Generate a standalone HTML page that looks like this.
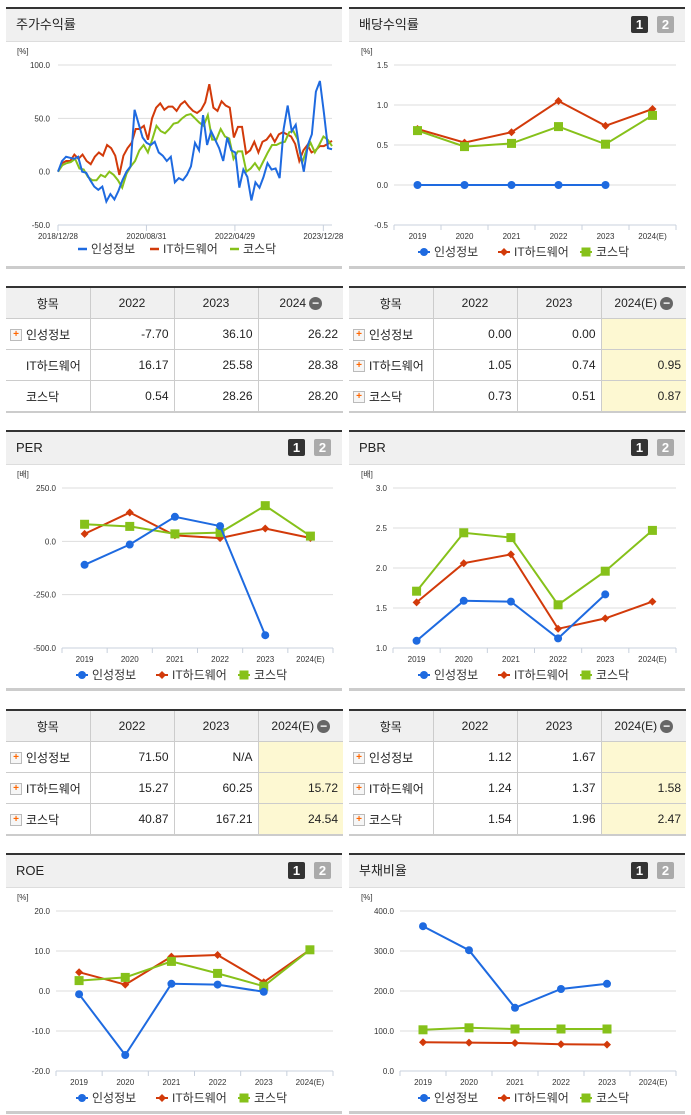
<!DOCTYPE html>
<html><head><meta charset="utf-8"><style>
body{margin:0;width:691px;height:1115px;background:#fff;position:relative;overflow:hidden;font-family:"Liberation Sans","Noto Sans CJK KR",sans-serif;}
.panel{position:absolute;width:336px;border-top:2px solid #333;}
.hdr{height:32px;background:#f0f0f0;border-bottom:1px solid #ddd;font-size:13px;color:#222;line-height:32px;padding-left:10px;position:relative;}
.btn{position:absolute;top:7px;width:17px;height:17px;font-size:13px;font-weight:bold;color:#fff;line-height:17px;text-align:center;border-radius:2px;}
table{position:absolute;border-collapse:collapse;font-size:12px;color:#222;border-top:2px solid #333;border-bottom:2px solid #ccc;table-layout:fixed;}
td,th{border-left:1px solid #ccc;border-bottom:1px solid #ccc;height:30px;padding:0 5px;}
td:first-child,th:first-child{border-left:none;}
th{background:#f0f0f0;font-weight:normal;}
td{text-align:right;}
td.n{text-align:left;padding-left:4px;}
.y{background:#fdf8d2;}
.pl{display:inline-block;width:10px;height:10px;border:1px solid #bbb;background:#f6f6f6;color:#f60;font-size:10px;line-height:10px;text-align:center;font-weight:bold;vertical-align:middle;margin-right:4px;}
.sp{display:inline-block;width:16px;}
.mi{display:inline-block;width:13px;height:13px;border-radius:50%;background:#666;color:#fff;font-size:12px;line-height:12px;text-align:center;vertical-align:middle;margin-left:3px;font-weight:bold;}
</style></head><body>
<div class="panel" style="left:6px;top:7px;height:257px;border-bottom:3px solid #ccc;"><div class="hdr">주가수익률</div></div>
<div class="panel" style="left:349px;top:7px;height:257px;border-bottom:3px solid #ccc;"><div class="hdr">배당수익률<span class="btn" style="left:282px;background:#333">1</span><span class="btn" style="left:308px;background:#aaa">2</span></div></div>
<div class="panel" style="left:6px;top:430px;height:256px;border-bottom:3px solid #ccc;"><div class="hdr">PER<span class="btn" style="left:282px;background:#333">1</span><span class="btn" style="left:308px;background:#aaa">2</span></div></div>
<div class="panel" style="left:349px;top:430px;height:256px;border-bottom:3px solid #ccc;"><div class="hdr">PBR<span class="btn" style="left:282px;background:#333">1</span><span class="btn" style="left:308px;background:#aaa">2</span></div></div>
<div class="panel" style="left:6px;top:853px;height:256px;border-bottom:3px solid #ccc;"><div class="hdr">ROE<span class="btn" style="left:282px;background:#333">1</span><span class="btn" style="left:308px;background:#aaa">2</span></div></div>
<div class="panel" style="left:349px;top:853px;height:256px;border-bottom:3px solid #ccc;"><div class="hdr">부채비율<span class="btn" style="left:282px;background:#333">1</span><span class="btn" style="left:308px;background:#aaa">2</span></div></div>

<table style="left:6px;top:286px;width:337px;">
<colgroup><col style="width:84px"><col style="width:84px"><col style="width:84px"><col style="width:85px"></colgroup>
<tr><th>항목</th><th>2022</th><th>2023</th><th>2024<span class="mi">−</span></th></tr>
<tr><td class="n"><span class="pl">+</span>인성정보</td><td>-7.70</td><td>36.10</td><td>26.22</td></tr>
<tr><td class="n"><span class="sp"></span>IT하드웨어</td><td>16.17</td><td>25.58</td><td>28.38</td></tr>
<tr><td class="n"><span class="sp"></span>코스닥</td><td>0.54</td><td>28.26</td><td>28.20</td></tr></table>

<table style="left:349px;top:286px;width:337px;">
<colgroup><col style="width:84px"><col style="width:84px"><col style="width:84px"><col style="width:85px"></colgroup>
<tr><th>항목</th><th>2022</th><th>2023</th><th>2024(E)<span class="mi">−</span></th></tr>
<tr><td class="n"><span class="pl">+</span>인성정보</td><td>0.00</td><td>0.00</td><td class="y"></td></tr>
<tr><td class="n"><span class="pl">+</span>IT하드웨어</td><td>1.05</td><td>0.74</td><td class="y">0.95</td></tr>
<tr><td class="n"><span class="pl">+</span>코스닥</td><td>0.73</td><td>0.51</td><td class="y">0.87</td></tr></table>

<table style="left:6px;top:709px;width:337px;">
<colgroup><col style="width:84px"><col style="width:84px"><col style="width:84px"><col style="width:85px"></colgroup>
<tr><th>항목</th><th>2022</th><th>2023</th><th>2024(E)<span class="mi">−</span></th></tr>
<tr><td class="n"><span class="pl">+</span>인성정보</td><td>71.50</td><td>N/A</td><td class="y"></td></tr>
<tr><td class="n"><span class="pl">+</span>IT하드웨어</td><td>15.27</td><td>60.25</td><td class="y">15.72</td></tr>
<tr><td class="n"><span class="pl">+</span>코스닥</td><td>40.87</td><td>167.21</td><td class="y">24.54</td></tr></table>

<table style="left:349px;top:709px;width:337px;">
<colgroup><col style="width:84px"><col style="width:84px"><col style="width:84px"><col style="width:85px"></colgroup>
<tr><th>항목</th><th>2022</th><th>2023</th><th>2024(E)<span class="mi">−</span></th></tr>
<tr><td class="n"><span class="pl">+</span>인성정보</td><td>1.12</td><td>1.67</td><td class="y"></td></tr>
<tr><td class="n"><span class="pl">+</span>IT하드웨어</td><td>1.24</td><td>1.37</td><td class="y">1.58</td></tr>
<tr><td class="n"><span class="pl">+</span>코스닥</td><td>1.54</td><td>1.96</td><td class="y">2.47</td></tr></table>

<svg id="svg" width="691" height="1115" style="position:absolute;left:0;top:0;pointer-events:none" font-family="Liberation Sans, Noto Sans CJK KR, sans-serif"></svg>
<script>
const years = ["2019","2020","2021","2022","2023","2024(E)"];
const stockDates = ["2018/12/28","2020/08/31","2022/04/29","2023/12/28"];
const stockTicks = [100,50,0,-50];
const stockBlue = [0,10,14,13,12,14,0,-1,-8,-14,-17,-14,-28,-21,-26,-18,-8,0,5,58,45,32,27,25,28,18,15,10,14,-10,-6,-8,-3,5,27,20,53,25,38,30,22,10,32,20,18,-15,2,-5,-27,-10,-15,-5,8,2,3,-6,40,62,38,44,20,0,25,35,75,85,55,22,21];
const stockRed = [0,8,10,10,16,12,16,10,7,14,18,15,25,22,15,-3,15,22,27,40,40,43,30,50,60,64,58,61,61,57,63,66,61,57,55,58,65,82,60,57,66,62,60,32,42,42,17,20,28,18,28,30,35,28,35,37,35,33,26,10,20,25,18,20,24,24,26,29];
const stockGreen = [0,6,8,9,12,3,2,-5,-8,-8,-3,-5,0,-3,-8,-15,-2,5,10,20,25,18,30,43,38,36,40,45,46,50,53,54,50,46,43,53,30,30,40,33,31,12,19,19,0,3,8,2,10,18,25,25,27,28,37,38,30,8,20,27,18,25,33,30,24];
const divBlue=[0,0,0,0,0,null], divRed=[0.70,0.53,0.66,1.05,0.74,0.95], divGreen=[0.68,0.48,0.52,0.73,0.51,0.87];
const divTicks=[1.5,1.0,0.5,0.0,-0.5];
const perBlue=[-110,-15,115,71.5,-440,null], perRed=[35,135,28,15.27,60.25,15.72], perGreen=[80,70,35,40.87,167.21,24.54];
const perTicks=[250,0,-250,-500];
const pbrBlue=[1.09,1.59,1.58,1.12,1.67,null], pbrRed=[1.57,2.06,2.17,1.24,1.37,1.58], pbrGreen=[1.71,2.44,2.38,1.54,1.96,2.47];
const pbrTicks=[3.0,2.5,2.0,1.5,1.0];
const roeBlue=[-0.8,-16,1.8,1.6,-0.2,null], roeRed=[4.7,1.6,8.6,9.0,2.2,10.3], roeGreen=[2.6,3.4,7.4,4.4,1.2,10.3];
const roeTicks=[20,10,0,-10,-20];
const debtBlue=[362,302,158,205,218,null], debtRed=[72,71,70,67,66,null], debtGreen=[103,108,105,105,105,null];
const debtTicks=[400,300,200,100,0];

const NS="http://www.w3.org/2000/svg", svg=document.getElementById('svg');
const C={b:"#1e6ae0",r:"#d23a0a",g:"#86c11a"};
function el(t,a,p){const e=document.createElementNS(NS,t);for(const k in a)e.setAttribute(k,a[k]);(p||svg).appendChild(e);return e;}
function txt(x,y,s,anchor,size,p){const e=el('text',{x:x,y:y,'font-size':size||9,fill:'#333','text-anchor':anchor||'start'},p);e.textContent=s;return e;}
function fmt(v,d){return v.toFixed(d);}
function marker(k,x,y,g){
  if(k==='b'){const m=el('circle',{cx:x,cy:y,r:4,fill:C.b},g);}
  else if(k==='r'){const m=el('path',{d:`M${x} ${y-4}L${x+4} ${y}L${x} ${y+4}L${x-4} ${y}Z`,fill:C.r},g);}
  else {const m=el('rect',{x:x-4.5,y:y-4.5,width:9,height:9,fill:C.g},g);}
}
function legend(x0,y,g){
  const items=[['b','인성정보',0],['r','IT하드웨어',80],['g','코스닥',162]];
  items.forEach(([k,s,dx])=>{const gg=el('g',{},g);
    el('line',{x1:x0+dx-6,y1:y,x2:x0+dx+6,y2:y,stroke:C[k],'stroke-width':2},gg);marker(k,x0+dx,y,gg);txt(x0+dx+10,y+4,s,'start',12,gg);});
}
function catChart(o){
  const g=el('g',{});
  const ymap=v=>o.yTop+(o.tMax-v)/(o.tMax-o.tMin)*(o.yBot-o.yTop);
  const bw=(o.x1-o.x0)/years.length, xmap=i=>o.x0+bw*(i+0.5);
  txt(o.ux,o.yTop-11,o.unit,'start',8,g);
  o.ticks.forEach(t=>{const y=ymap(t);
    if(y<o.yBot-0.5)el('line',{x1:o.x0,y1:y,x2:o.x1,y2:y,stroke:'#ddd','stroke-width':1},g);
    const l=txt(o.x0-6,y+3,fmt(t,1),'end',8,g);});
  el('line',{x1:o.x0,y1:o.yBot,x2:o.x1,y2:o.yBot,stroke:'#c8d0dc','stroke-width':1},g);
  for(let i=0;i<=years.length;i++)el('line',{x1:o.x0+bw*i,y1:o.yBot,x2:o.x0+bw*i,y2:o.yBot+5,stroke:'#c8d0dc'},g);
  years.forEach((s,i)=>{const l=txt(xmap(i),o.yBot+14,s,'middle',8,g);});
  [['r',o.red],['g',o.green],['b',o.blue]].forEach(([k,arr])=>{
    const pts=[];arr.forEach((v,i)=>{if(v!==null)pts.push([xmap(i),ymap(v)]);});
    const pl=el('polyline',{points:pts.map(p=>p.join(',')).join(' '),fill:'none',stroke:C[k],'stroke-width':2},g);
    
    pts.forEach(p=>marker(k,p[0],p[1],g));
  });
  legend(o.lx,o.yBot+27,g);
}
// stock chart
(function(){
  const g=el('g',{});
  const x0=58,x1=332,yTop=65,yBot=225,ymap=v=>yTop+(100-v)/150*(yBot-yTop);
  txt(17,54,'[%]','start',8,g);
  stockTicks.forEach(t=>{const y=ymap(t);if(t>-50)el('line',{x1:x0,y1:y,x2:x1,y2:y,stroke:'#ddd'},g);
    const l=txt(x0-8,y+3,fmt(t,1),'end',8,g);});
  el('line',{x1:x0,y1:yBot,x2:x1,y2:yBot,stroke:'#c8d0dc'},g);
  stockDates.forEach((s,i)=>{const x=x0+i*(x1-x0-6)/3.03;el('line',{x1:x,y1:yBot,x2:x,y2:yBot+6,stroke:'#c8d0dc'},g);
    const l=txt(x,yBot+14,s,'middle',8,g);});
  [['r',stockRed],['g',stockGreen],['b',stockBlue]].forEach(([k,arr])=>{
    const pts=arr.map((v,i)=>[x0+i*(x1-x0)/(arr.length-1),ymap(v)]);
    const pl=el('polyline',{points:pts.map(p=>p.join(',')).join(' '),fill:'none',stroke:C[k],'stroke-width':2},g);
    });
  const items=[['b','인성정보',78],['r','IT하드웨어',150],['g','코스닥',230]];
  items.forEach(([k,s,x])=>{const gg=el('g',{},g);
    el('line',{x1:x,y1:249,x2:x+9,y2:249,stroke:C[k],'stroke-width':2.5},gg);txt(x+13,253,s,'start',12,gg);});
})();
catChart({name:'dividend-chart',x0:394,x1:676,yTop:65,yBot:225,tMax:1.5,tMin:-0.5,ticks:divTicks,unit:'[%]',ux:361,blue:divBlue,red:divRed,green:divGreen,lx:424});
catChart({name:'per-chart',x0:62,x1:333,yTop:488,yBot:648,tMax:250,tMin:-500,ticks:perTicks,unit:'[배]',ux:17,blue:perBlue,red:perRed,green:perGreen,lx:82});
catChart({name:'pbr-chart',x0:393,x1:676,yTop:488,yBot:648,tMax:3.0,tMin:1.0,ticks:pbrTicks,unit:'[배]',ux:361,blue:pbrBlue,red:pbrRed,green:pbrGreen,lx:424});
catChart({name:'roe-chart',x0:56,x1:333,yTop:911,yBot:1071,tMax:20,tMin:-20,ticks:roeTicks,unit:'[%]',ux:17,blue:roeBlue,red:roeRed,green:roeGreen,lx:82});
catChart({name:'debt-ratio-chart',x0:400,x1:676,yTop:911,yBot:1071,tMax:400,tMin:0,ticks:debtTicks,unit:'[%]',ux:361,blue:debtBlue,red:debtRed,green:debtGreen,lx:424});
</script>
</body></html>
